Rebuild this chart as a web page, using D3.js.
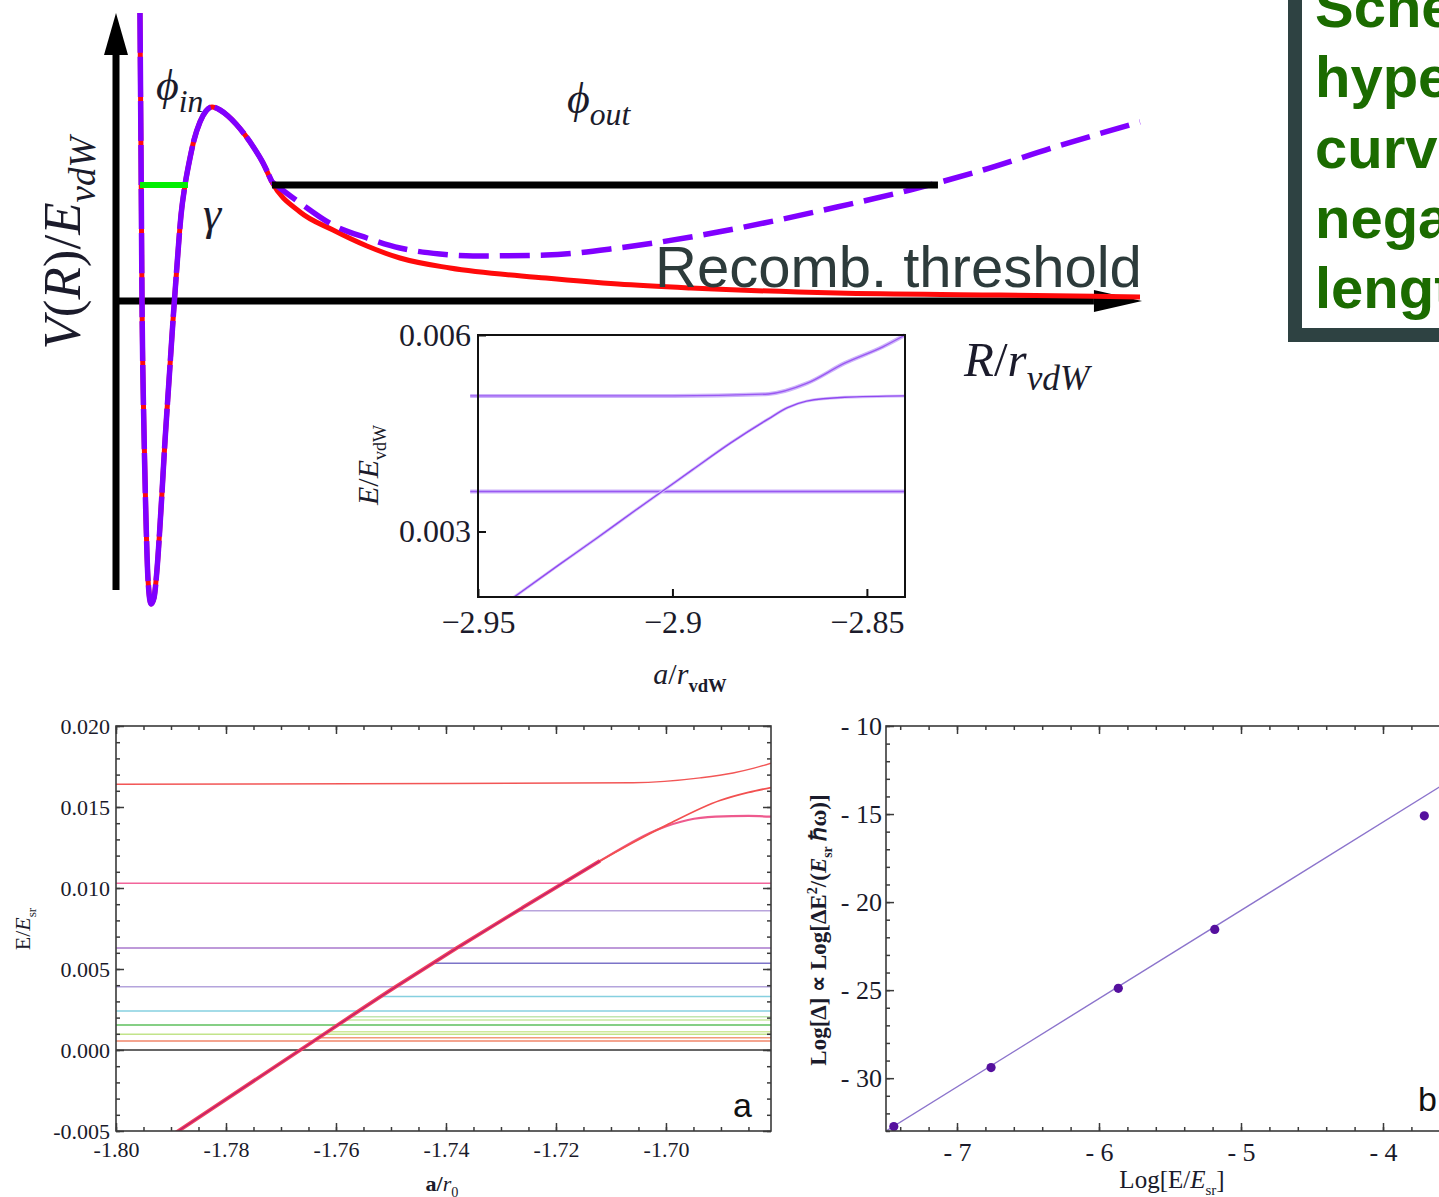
<!DOCTYPE html>
<html>
<head>
<meta charset="utf-8">
<script src="https://cdn.jsdelivr.net/npm/d3@7"></script>
<style>
  body { margin: 0; background: #fff; }
  svg { display: block; }
</style>
</head>
<body>
<svg id="fig" width="1439" height="1197"></svg>
<script>
// ---- schematic potential (R/rvdW, V/EvdW) ----
const innerR = [0.234,0.244,0.254,0.273,0.293,0.313,0.342,0.371,0.400,0.439,0.479,0.518,0.557,0.596,0.635,0.674,0.713,0.762,0.820,0.879,0.938,1.016,1.094,1.172,1.260,1.348,1.436,1.523];
const innerV = [2.87,1.50,0.00,-1.30,-2.20,-2.80,-3.04,-2.98,-2.70,-2.10,-1.40,-0.80,-0.20,0.35,0.85,1.15,1.37,1.60,1.78,1.89,1.93,1.90,1.84,1.76,1.65,1.52,1.37,1.18];
const openR = [1.523,1.797,2.119,2.451,2.773,3.262,4.199,4.902,5.615,7.041,8.633,10.0];
const openV = [1.18,0.88,0.70,0.54,0.42,0.32,0.22,0.16,0.12,0.07,0.05,0.03];
const closedR = [1.523,1.797,2.119,2.451,2.773,3.164,3.486,4.199,4.902,5.615,6.328,7.041,7.754,8.467,9.170,10.0];
const closedV = [1.18,0.97,0.75,0.62,0.52,0.46,0.44,0.45,0.52,0.63,0.77,0.93,1.10,1.30,1.53,1.78];
const boundLevel = 1.15;
const barR = [1.523, 8.027];
const gammaR = [0.234, 0.703];

// ---- inset (a/rvdW, E/EvdW) ----
const insetXTicks = [-2.95, -2.9, -2.85];
const insetYTicks = [0.003, 0.006];
const insetUpperX = [-2.952, -2.90, -2.8753, -2.8655, -2.8557, -2.8459, -2.8402];
const insetUpperE = [0.00507, 0.00507, 0.00510, 0.00526, 0.00557, 0.00582, 0.0060];
const insetLowerX = [-2.952, -2.8402];
const insetLowerE = [0.00361, 0.00361];
const insetDiagX = [-2.9407, -2.9292, -2.9194, -2.9096, -2.9027, -2.8949, -2.8851, -2.8753, -2.8704, -2.8655, -2.8557, -2.8402];
const insetDiagE = [0.0020, 0.00249, 0.00290, 0.00332, 0.00361, 0.00394, 0.00435, 0.00472, 0.00489, 0.00499, 0.00505, 0.00507];

// ---- panel a (a/r0, E/Esr) ----
const aXTicks = [-1.80, -1.78, -1.76, -1.74, -1.72, -1.70];
const aYTicks = [-0.005, 0, 0.005, 0.010, 0.015, 0.020];
const aLevelE = [0.0103, 0.0063, 0.0039, 0.0024, 0.00154, 0.00097, 0.00056];
const aLevelColor = ["#f2649a", "#a878cc", "#b4a4dc", "#86d0e0", "#5cbf5c", "#c2e48a", "#f0866a"];
const aBranchE = [0.0086, 0.00535, 0.0033, 0.00206, 0.00185, 0.00113, 0.00076];
const aBranchStart = [-1.7270, -1.7424, -1.7518, -1.7573, -1.7583, -1.7615, -1.7631];
const aBranchColor = ["#b8a4dc", "#7c74c8", "#86d0e0", "#bfe6b0", "#c8e8a0", "#cfe89a", "#f29a78"];
const aDiagX = [-1.7900, -1.7665, -1.7496, -1.7380, -1.7260, -1.7187, -1.7120];
const aDiagE = [-0.0053, 0, 0.0038, 0.0063, 0.0088, 0.0103, 0.01167];
const aTopX = [-1.80, -1.74, -1.706, -1.6938, -1.6878, -1.6840, -1.6809];
const aTopE = [0.0164, 0.01645, 0.0165, 0.0168, 0.0171, 0.0174, 0.0177];
const aUpX = [-1.7187, -1.712, -1.6998, -1.6902, -1.6850, -1.6809];
const aUpE = [0.0103, 0.01167, 0.0139, 0.0154, 0.0159, 0.0162];
const aPinkX = [-1.7187, -1.712, -1.7016, -1.6960, -1.6910, -1.6850, -1.6809];
const aPinkE = [0.0103, 0.01167, 0.0136, 0.0142, 0.0144, 0.01445, 0.0144];

// ---- panel b (Log[E/Esr], Log[Delta]) ----
const bXTicks = [-7, -6, -5, -4];
const bYTicks = [-30, -25, -20, -15, -10];
const bPtsX = [-7.445, -6.76, -5.864, -5.185, -3.709];
const bPtsY = [-32.75, -29.4, -24.9, -21.55, -15.1];
const bFitX = [-7.5, -3.4];
const bFitY = [-33.0, -12.45];

const svg = d3.select('#fig');
const serif = 'Liberation Serif, Times New Roman, serif';

// text with italic parts, subscripts and superscripts
function richText(parent, x, y, parts, o) {
  const t = parent.append('text')
    .attr('x', x).attr('y', y)
    .attr('font-family', o.family || serif)
    .attr('font-size', o.size)
    .attr('fill', o.fill || '#1b1b2b')
    .attr('font-weight', o.weight || 'normal')
    .attr('text-anchor', o.anchor || 'start');
  if (o.rotate) t.attr('transform', `rotate(${o.rotate},${x},${y})`);
  let shift = 0;
  parts.forEach(p => {
    const target = p.sub ? o.size * 0.28 : p.sup ? -o.size * 0.4 : 0;
    const ts = t.append('tspan')
      .attr('dy', target - shift)
      .attr('font-size', (p.sub || p.sup) ? o.size * (p.scale || 0.66) : o.size)
      .attr('font-style', p.it ? 'italic' : 'normal')
      .text(p.t);
    if (p.bold) ts.attr('font-weight', 'bold');
    shift = target;
  });
  return t;
}

const zip = (xs, ys) => xs.map((x, i) => [x, ys[i]]);

// ================= schematic =================
const sx = d3.scaleLinear([0, 10], [116, 1140]);
const sy = d3.scaleLinear([-3, 3], [600, 0]);
const sLine = d3.line().x(d => sx(d[0])).y(d => sy(d[1])).curve(d3.curveMonotoneX);
const schem = svg.append('g');

// axes arrows
schem.append('line')
  .attr('x1', sx(0)).attr('x2', sx(0)).attr('y1', sy(-2.9)).attr('y2', sy(2.45))
  .attr('stroke', '#000').attr('stroke-width', 7);
schem.append('path')
  .attr('d', `M${sx(0)},${sy(2.87)} L${sx(0) - 12},${sy(2.45)} L${sx(0) + 12},${sy(2.45)} Z`)
  .attr('fill', '#000');
schem.append('line')
  .attr('x1', sx(0)).attr('x2', sx(9.55)).attr('y1', sy(0) + 1).attr('y2', sy(0) + 1)
  .attr('stroke', '#000').attr('stroke-width', 7);
schem.append('path')
  .attr('d', `M${sx(10.02)},${sy(0) + 1} L${sx(9.55)},${sy(0) - 10} L${sx(9.55)},${sy(0) + 12} Z`)
  .attr('fill', '#000');

// open channel (red) and closed channel (purple dashed)
const openPts = zip(innerR, innerV).concat(zip(openR, openV).slice(1));
schem.append('path').attr('d', sLine(openPts))
  .attr('fill', 'none').attr('stroke', '#ff0a0a').attr('stroke-width', 5);
schem.append('path').attr('d', sLine(zip(innerR, innerV)))
  .attr('fill', 'none').attr('stroke', '#8000ff').attr('stroke-width', 5.5)
  .attr('stroke-dasharray', '40 4');
schem.append('path').attr('d', sLine(zip(closedR, closedV)))
  .attr('fill', 'none').attr('stroke', '#8000ff').attr('stroke-width', 5.5)
  .attr('stroke-dasharray', '30 11');

// bound level bar and gamma
schem.append('line')
  .attr('x1', sx(barR[0])).attr('x2', sx(barR[1]))
  .attr('y1', sy(boundLevel)).attr('y2', sy(boundLevel))
  .attr('stroke', '#000').attr('stroke-width', 7);
schem.append('line')
  .attr('x1', sx(gammaR[0])).attr('x2', sx(gammaR[1]))
  .attr('y1', sy(boundLevel)).attr('y2', sy(boundLevel))
  .attr('stroke', '#00ee00').attr('stroke-width', 6);

// labels
richText(schem, 80, 243, [{t: 'V', it: true}, {t: '('}, {t: 'R', it: true}, {t: ')/'}, {t: 'E', it: true}, {t: 'vdW', it: true, sub: true, scale: 0.7}],
  {size: 53, anchor: 'middle', rotate: -90});
richText(schem, 156, 100, [{t: 'ϕ', it: true}, {t: 'in', it: true, sub: true, scale: 0.72}], {size: 44});
richText(schem, 567, 113, [{t: 'ϕ', it: true}, {t: 'out', it: true, sub: true, scale: 0.72}], {size: 44});
richText(schem, 203, 229, [{t: 'γ', it: true}], {size: 46});
richText(schem, 964, 376, [{t: 'R', it: true}, {t: '/'}, {t: 'r', it: true}, {t: 'vdW', it: true, sub: true, scale: 0.72}], {size: 49});
schem.append('text')
  .attr('x', 655).attr('y', 287)
  .attr('font-family', 'Liberation Sans, Arial, sans-serif')
  .attr('font-size', 58).attr('fill', '#2d3b3b')
  .text('Recomb. threshold');

// ================= inset =================
const ix = d3.scaleLinear([-2.95, -2.8402], [478, 905]);
const iy = d3.scaleLinear([0.002, 0.006], [597, 335]);
const iLine = d3.line().x(d => ix(d[0])).y(d => iy(d[1])).curve(d3.curveMonotoneX);
const inset = svg.append('g');

[[insetUpperX, insetUpperE], [insetLowerX, insetLowerE]].forEach(([xs, es]) => {
  inset.append('path').attr('d', iLine(zip(xs, es)))
    .attr('fill', 'none').attr('stroke', '#cdb4fa').attr('stroke-width', 4);
  inset.append('path').attr('d', iLine(zip(xs, es)))
    .attr('fill', 'none').attr('stroke', '#9a58f2').attr('stroke-width', 1.4);
});
inset.append('path').attr('d', iLine(zip(insetDiagX, insetDiagE)))
  .attr('fill', 'none').attr('stroke', '#d7c4fb').attr('stroke-width', 3);
inset.append('path').attr('d', iLine(zip(insetDiagX, insetDiagE)))
  .attr('fill', 'none').attr('stroke', '#9048f0').attr('stroke-width', 1.4);

inset.append('rect')
  .attr('x', 478).attr('y', 335).attr('width', 905 - 478).attr('height', 597 - 335)
  .attr('fill', 'none').attr('stroke', '#111').attr('stroke-width', 2);

const insetAxisX = inset.append('g').attr('transform', 'translate(0,597)')
  .call(d3.axisBottom(ix).tickValues(insetXTicks).tickSize(-8).tickPadding(13)
    .tickFormat(d => '\u2212' + Math.abs(d).toString()));
const insetAxisY = inset.append('g').attr('transform', 'translate(478,0)')
  .call(d3.axisLeft(iy).tickValues(insetYTicks).tickSize(-8).tickPadding(7)
    .tickFormat(d => d.toFixed(3)));
[insetAxisX, insetAxisY].forEach(g => {
  g.select('.domain').remove();
  g.selectAll('line').attr('stroke', '#111').attr('stroke-width', 2);
  g.selectAll('text').attr('font-family', serif).attr('font-size', 32).attr('fill', '#1b1b2b');
});
richText(inset, 378, 465, [{t: 'E', it: true}, {t: '/'}, {t: 'E', it: true}, {t: 'vdW', sub: true, scale: 0.6}],
  {size: 30, anchor: 'middle', rotate: -90});
richText(inset, 690, 684, [{t: 'a', it: true}, {t: '/'}, {t: 'r', it: true}, {t: 'vdW', sub: true, bold: true, scale: 0.62}],
  {size: 30, anchor: 'middle'});

// ================= text box (cut by the right edge, as in the source) =================
const box = svg.append('g');
box.append('rect')
  .attr('x', 1295).attr('y', -30).attr('width', 220).attr('height', 365)
  .attr('fill', '#fff').attr('stroke', '#2e4242').attr('stroke-width', 14);
const boxLines = ['Sche', 'hype', 'curv', 'nega', 'lengt'];
box.selectAll('text.box').data(boxLines).join('text')
  .attr('class', 'box')
  .attr('x', 1315).attr('y', (d, i) => 27 + i * 70.3)
  .attr('font-family', 'Liberation Sans, Arial, sans-serif')
  .attr('font-weight', 'bold').attr('font-size', 58).attr('fill', '#1b6b00')
  .text(d => d);

// ================= panel a =================
const ax = d3.scaleLinear([-1.80, -1.6809], [116, 771]);
const ay = d3.scaleLinear([-0.005, 0.020], [1131, 726]);
const aLine = d3.line().x(d => ax(d[0])).y(d => ay(d[1])).curve(d3.curveMonotoneX);
const pa = svg.append('g');
const defs = svg.append('defs');
defs.append('clipPath').attr('id', 'clipA')
  .append('rect').attr('x', 116).attr('y', 726).attr('width', 655).attr('height', 405);
const pac = pa.append('g').attr('clip-path', 'url(#clipA)');

pac.selectAll('line.level').data(aLevelE).join('line')
  .attr('class', 'level')
  .attr('x1', ax(-1.80)).attr('x2', ax(-1.6809))
  .attr('y1', d => ay(d)).attr('y2', d => ay(d))
  .attr('stroke', (d, i) => aLevelColor[i]).attr('stroke-width', 1.5);
pac.selectAll('line.branch').data(aBranchE).join('line')
  .attr('class', 'branch')
  .attr('x1', (d, i) => ax(aBranchStart[i])).attr('x2', ax(-1.6809))
  .attr('y1', d => ay(d)).attr('y2', d => ay(d))
  .attr('stroke', (d, i) => aBranchColor[i]).attr('stroke-width', 1.5);
pac.append('line')
  .attr('x1', ax(-1.80)).attr('x2', ax(-1.6809)).attr('y1', ay(0)).attr('y2', ay(0))
  .attr('stroke', '#333').attr('stroke-width', 1.6);

pac.append('path').attr('d', aLine(zip(aTopX, aTopE)))
  .attr('fill', 'none').attr('stroke', '#f25656').attr('stroke-width', 1.4);
pac.append('path').attr('d', aLine(zip(aPinkX, aPinkE)))
  .attr('fill', 'none').attr('stroke', '#ee5a8e').attr('stroke-width', 2.2);
pac.append('path').attr('d', aLine(zip(aUpX, aUpE)))
  .attr('fill', 'none').attr('stroke', '#f25050').attr('stroke-width', 1.8);
pac.append('path').attr('d', aLine(zip(aDiagX, aDiagE)))
  .attr('fill', 'none').attr('stroke', '#f0445e').attr('stroke-width', 3.8);
pac.append('path').attr('d', aLine(zip(aDiagX, aDiagE)))
  .attr('fill', 'none').attr('stroke', '#c01c6c').attr('stroke-width', 1.3);

pa.append('rect')
  .attr('x', 116).attr('y', 726).attr('width', 655).attr('height', 405)
  .attr('fill', 'none').attr('stroke', '#3a3a3a').attr('stroke-width', 1.6);

const aMinorX = d3.range(0, 24).map(i => +(-1.80 + i * 0.005).toFixed(3));
const aMinorY = d3.range(0, 26).map(i => +(-0.005 + i * 0.001).toFixed(3));
function panelAxes(g, xs, ys, x0, x1, y0, y1, majX, minX, majY, minY, fmtX, fmtY, size, padX, padY) {
  const parts = [
    g.append('g').attr('transform', `translate(0,${y1})`)
      .call(d3.axisBottom(xs).tickValues(majX).tickSize(-8).tickPadding(padX).tickFormat(fmtX)),
    g.append('g').attr('transform', `translate(0,${y1})`)
      .call(d3.axisBottom(xs).tickValues(minX).tickSize(-4).tickFormat('')),
    g.append('g').attr('transform', `translate(0,${y0})`)
      .call(d3.axisTop(xs).tickValues(majX).tickSize(-8).tickFormat('')),
    g.append('g').attr('transform', `translate(0,${y0})`)
      .call(d3.axisTop(xs).tickValues(minX).tickSize(-4).tickFormat('')),
    g.append('g').attr('transform', `translate(${x0},0)`)
      .call(d3.axisLeft(ys).tickValues(majY).tickSize(-8).tickPadding(padY).tickFormat(fmtY)),
    g.append('g').attr('transform', `translate(${x0},0)`)
      .call(d3.axisLeft(ys).tickValues(minY).tickSize(-4).tickFormat('')),
    g.append('g').attr('transform', `translate(${x1},0)`)
      .call(d3.axisRight(ys).tickValues(majY).tickSize(-8).tickFormat('')),
    g.append('g').attr('transform', `translate(${x1},0)`)
      .call(d3.axisRight(ys).tickValues(minY).tickSize(-4).tickFormat(''))
  ];
  parts.forEach(p => {
    p.select('.domain').remove();
    p.selectAll('line').attr('stroke', '#3a3a3a').attr('stroke-width', 1.5);
    p.selectAll('text').attr('font-family', serif).attr('font-size', size).attr('fill', '#1a1a2a');
  });
}
panelAxes(pa, ax, ay, 116, 771, 726, 1131, aXTicks, aMinorX, aYTicks, aMinorY,
  d => d.toFixed(2), d => d.toFixed(3), 22, 10, 6);

richText(pa, 30, 929, [{t: 'E/'}, {t: 'E', it: true}, {t: 'sr', sub: true, scale: 0.6}],
  {size: 22, anchor: 'middle', rotate: -90});
richText(pa, 442, 1191, [{t: 'a/', bold: true}, {t: 'r', it: true}, {t: '0', sub: true, scale: 0.65}],
  {size: 22, anchor: 'middle'});
pa.append('text').attr('x', 733).attr('y', 1117)
  .attr('font-family', 'Liberation Sans, Arial, sans-serif').attr('font-size', 34).attr('fill', '#111')
  .text('a');

// ================= panel b =================
const bx = d3.scaleLinear([-7.5, -3.4], [886, 886 + 4.1 * 142]);
const by = d3.scaleLinear([-33, -10], [1131, 726]);
const pb = svg.append('g');
defs.append('clipPath').attr('id', 'clipB')
  .append('rect').attr('x', 886).attr('y', 726).attr('width', 4.1 * 142).attr('height', 405);
const pbc = pb.append('g').attr('clip-path', 'url(#clipB)');
pbc.append('path')
  .attr('d', d3.line().x(d => bx(d[0])).y(d => by(d[1]))(zip(bFitX, bFitY)))
  .attr('fill', 'none').attr('stroke', '#8c74cc').attr('stroke-width', 1.4);
pbc.selectAll('circle').data(zip(bPtsX, bPtsY)).join('circle')
  .attr('cx', d => bx(d[0])).attr('cy', d => by(d[1])).attr('r', 4.6)
  .attr('fill', '#55109e');
pb.append('rect')
  .attr('x', 886).attr('y', 726).attr('width', 4.1 * 142).attr('height', 405)
  .attr('fill', 'none').attr('stroke', '#3a3a3a').attr('stroke-width', 1.6);

const bMinorX = d3.range(0, 21).map(i => +(-7.4 + i * 0.2).toFixed(1));
const bMinorY = d3.range(0, 24).map(i => -33 + i);
panelAxes(pb, bx, by, 886, 886 + 4.1 * 142, 726, 1131, bXTicks, bMinorX, bYTicks, bMinorY,
  d => '- ' + Math.abs(d), d => '- ' + Math.abs(d), 26, 12, 4);

richText(pb, 1172, 1188, [{t: 'Log[E/'}, {t: 'E', it: true}, {t: 'sr', sub: true, scale: 0.6}, {t: ']'}],
  {size: 25, anchor: 'middle'});
richText(pb, 826, 930, [{t: 'Log[Δ] ∝ Log[ΔE'}, {t: '2', sup: true, scale: 0.62}, {t: '/('}, {t: 'E', it: true},
  {t: 'sr', sub: true, scale: 0.6}, {t: ' ℏω)]'}],
  {size: 23, anchor: 'middle', rotate: -90, weight: 'bold'});
pb.append('text').attr('x', 1418).attr('y', 1111)
  .attr('font-family', 'Liberation Sans, Arial, sans-serif').attr('font-size', 34).attr('fill', '#111')
  .text('b');
</script>
</body>
</html>
